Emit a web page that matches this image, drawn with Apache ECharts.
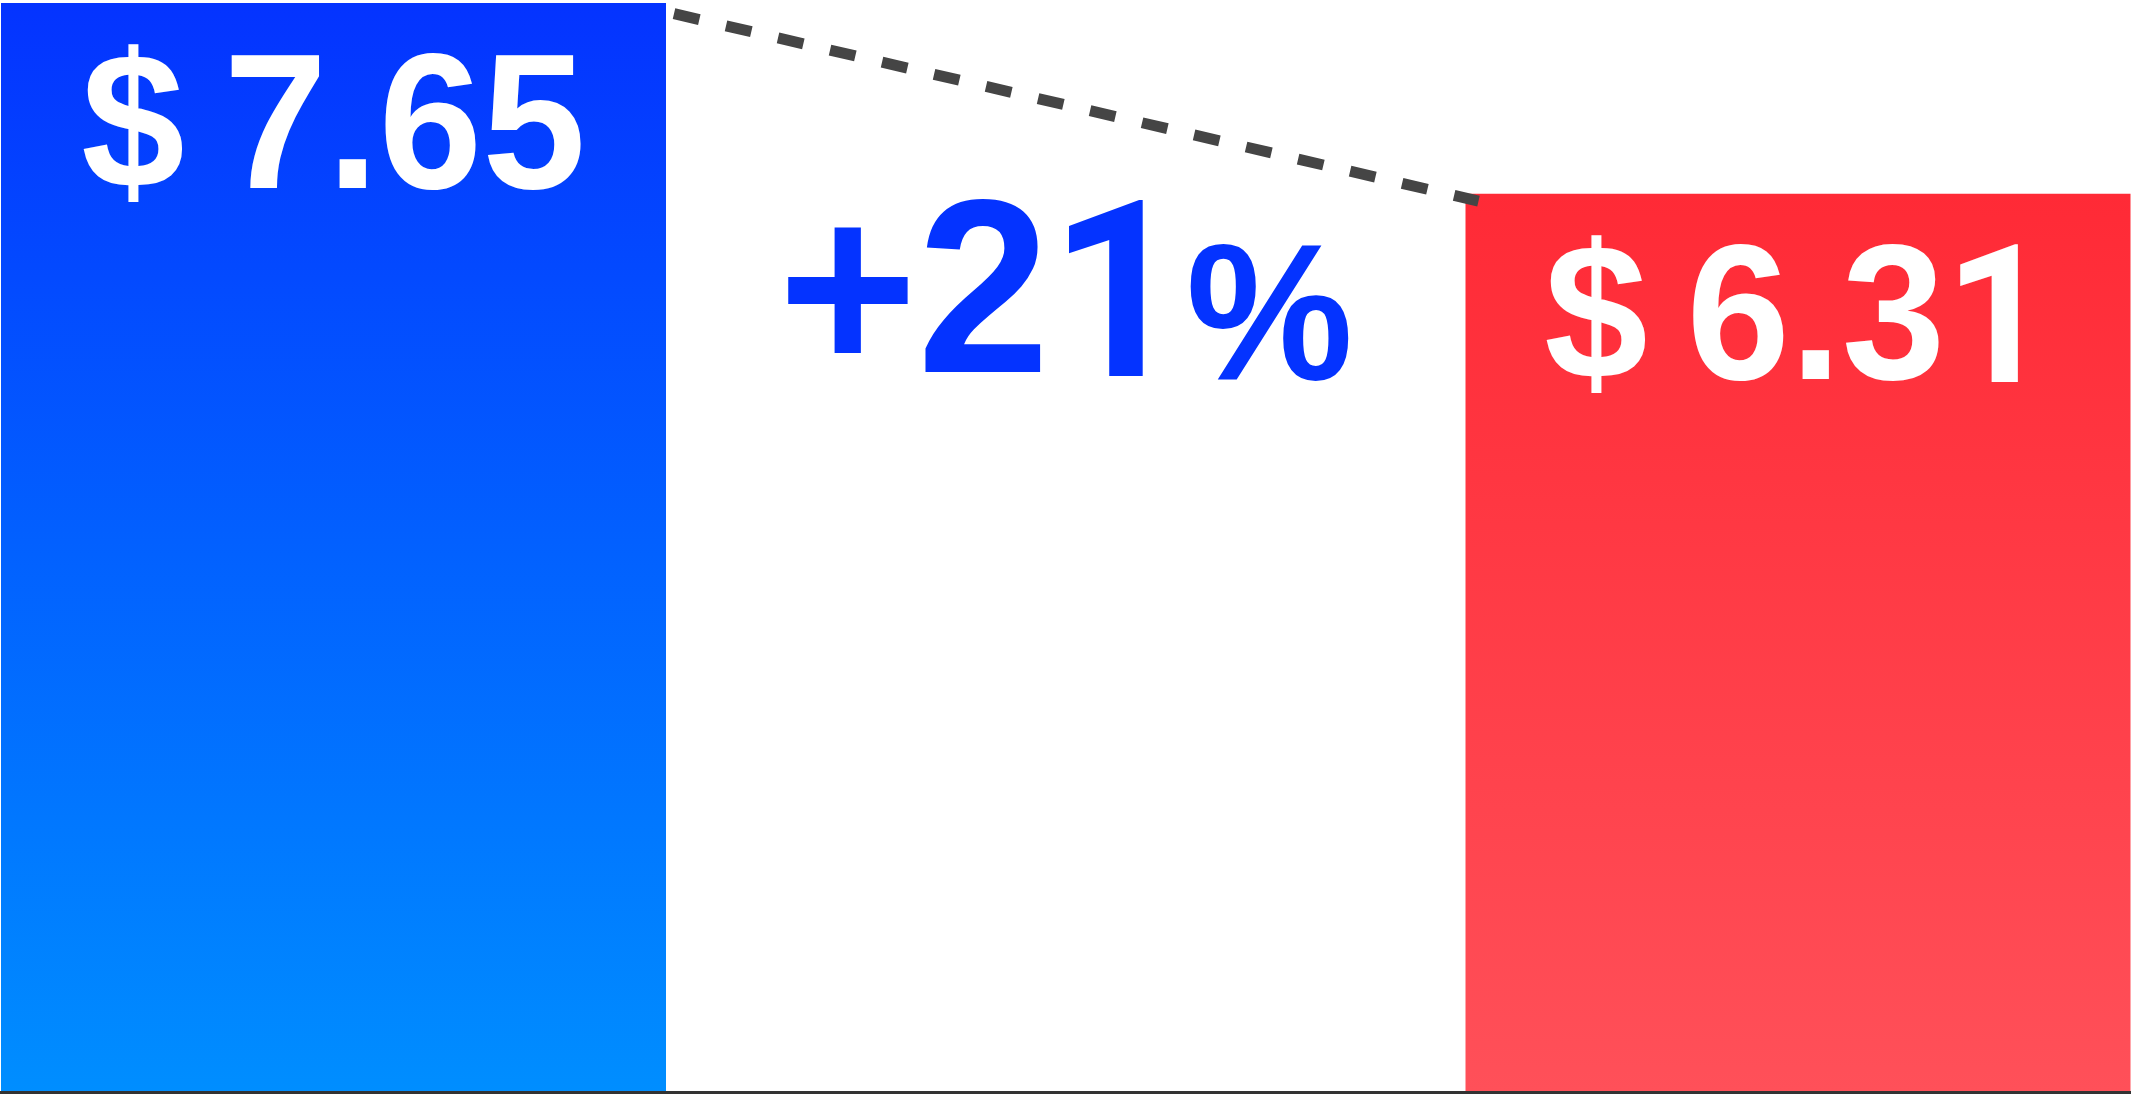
<!DOCTYPE html>
<html>
<head>
<meta charset="utf-8">
<title>Price comparison</title>
<script src="https://cdn.jsdelivr.net/npm/echarts@6/dist/echarts.min.js"></script>
<style>
  html, body { margin: 0; padding: 0; background: #ffffff; }
  #chart { width: 2131px; height: 1094px; }
</style>
</head>
<body>
<div id="chart"></div>
<script>
// Two prices compared side by side
const categories = ['Price A', 'Price B'];
const prices = [7.65, 6.31];

const FONT = "'Liberation Sans', Arial, Helvetica, sans-serif";
const FONT_ONE = "Roboto, 'Liberation Sans', Arial, sans-serif"; // footless "1"
const BAR_WIDTH = 665;
const TEXT_STRETCH = 1.04; // taller glyphs, closer to Arial's cap height
const barGradients = [
  ['#0433FF', '#008EFF'],
  ['#FF2A36', '#FF5059']
];

// Relative difference between the two prices, shown between the bars
const diffPct = Math.round((prices[0] / prices[1] - 1) * 100);
const diffText = (diffPct >= 0 ? '+' : '') + diffPct;

// Turn a plain string into rich-text tokens: digit "1" and spaces get their own styles
function toRich(str, base) {
  let out = '';
  let run = '';
  const flush = () => { if (run) { out += '{' + base + '|' + run + '}'; run = ''; } };
  for (const ch of str) {
    if (ch === '1') { flush(); out += '{' + base + 'One|1}'; }
    else if (ch === ' ') { flush(); out += '{sp| }'; }
    else run += ch;
  }
  flush();
  return out;
}

// Roboto sits higher on the line than Liberation Sans, so its "1" gets a top pad
const valueRich = {
  v: { fontFamily: FONT, fontWeight: 'bold', fontSize: 186, lineHeight: 186 },
  vOne: { fontFamily: FONT_ONE, fontWeight: 'bold', fontSize: 186, lineHeight: 186, padding: [16, 0, 0, 0] },
  sp: { fontFamily: FONT, fontWeight: 'bold', fontSize: 140, lineHeight: 186 }
};

const diffRich = {
  d: { fontFamily: FONT, fontWeight: 'bold', fontSize: 238, lineHeight: 238, verticalAlign: 'bottom', padding: [0, 0, 10, 0] },
  dOne: { fontFamily: FONT_ONE, fontWeight: 'bold', fontSize: 238, lineHeight: 238, verticalAlign: 'bottom' },
  pct: { fontFamily: FONT, fontWeight: 'bold', fontSize: 188, lineHeight: 190, verticalAlign: 'bottom', padding: [0, 0, 15, 0] }
};

const chart = echarts.init(document.getElementById('chart'), null, { renderer: 'canvas' });

chart.setOption({
  animation: false,
  backgroundColor: '#ffffff',
  grid: [
    { left: 333.5, right: 333, top: 3, bottom: 1.5, containLabel: false },
    { left: 0, right: 0, top: 3, bottom: 1.5, containLabel: false }
  ],
  xAxis: [
    {
      type: 'category',
      gridIndex: 0,
      data: categories,
      boundaryGap: false,
      axisLine: { show: false },
      axisTick: { show: false },
      axisLabel: { show: false },
      splitLine: { show: false }
    },
    {
      // full-width baseline along the bottom
      type: 'value',
      gridIndex: 1,
      z: 10,
      axisLine: { show: true, onZero: false, lineStyle: { color: '#333333', width: 3 } },
      axisTick: { show: false },
      axisLabel: { show: false },
      splitLine: { show: false }
    }
  ],
  yAxis: [
    {
      type: 'value',
      gridIndex: 0,
      min: 0,
      max: Math.max.apply(null, prices),
      show: false,
      splitLine: { show: false }
    },
    { type: 'value', gridIndex: 1, show: false, splitLine: { show: false } }
  ],
  series: [
    {
      type: 'bar',
      barWidth: BAR_WIDTH,
      clip: false,
      z: 2,
      data: prices.map((v, i) => ({
        value: v,
        itemStyle: {
          color: new echarts.graphic.LinearGradient(0, 0, 0, 1, [
            { offset: 0, color: barGradients[i][0] },
            { offset: 1, color: barGradients[i][1] }
          ])
        }
      }))
    },
    {
      // price labels inside the top of each bar
      type: 'custom',
      z: 6,
      data: prices.map((v, i) => [i, v]),
      renderItem: function (params, api) {
        const p = api.coord([api.value(0), api.value(1)]);
        return {
          type: 'text',
          x: p[0],
          y: p[1] + 35,
          scaleY: TEXT_STRETCH,
          style: {
            x: 0,
            y: 0,
            text: toRich('$ ' + api.value(1).toFixed(2), 'v'),
            align: 'center',
            verticalAlign: 'top',
            fill: '#ffffff',
            rich: valueRich
          }
        };
      }
    },
    {
      // dashed connector between the bar tops plus the difference label
      type: 'custom',
      z: 5,
      data: [[0, prices[0]]],
      renderItem: function (params, api) {
        const a = api.coord([0, prices[0]]);
        const b = api.coord([1, prices[1]]);
        const half = BAR_WIDTH / 2;
        const midX = (a[0] + b[0]) / 2;
        return {
          type: 'group',
          children: [
            {
              type: 'line',
              shape: {
                x1: a[0] + half + 8, y1: a[1] + 10.7,
                x2: b[0] - half + 13, y2: b[1] + 7.3
              },
              style: {
                stroke: '#454545',
                lineWidth: 11,
                lineDash: [26, 27.4],
                lineCap: 'butt'
              }
            },
            {
              type: 'text',
              x: midX,
              y: b[1] - 3,
              scaleY: TEXT_STRETCH,
              style: {
                x: 0,
                y: 0,
                text: toRich(diffText, 'd') + '{pct|%}',
                align: 'center',
                verticalAlign: 'top',
                fill: '#0433FF',
                rich: diffRich
              }
            }
          ]
        };
      }
    }
  ]
});
</script>
</body>
</html>
